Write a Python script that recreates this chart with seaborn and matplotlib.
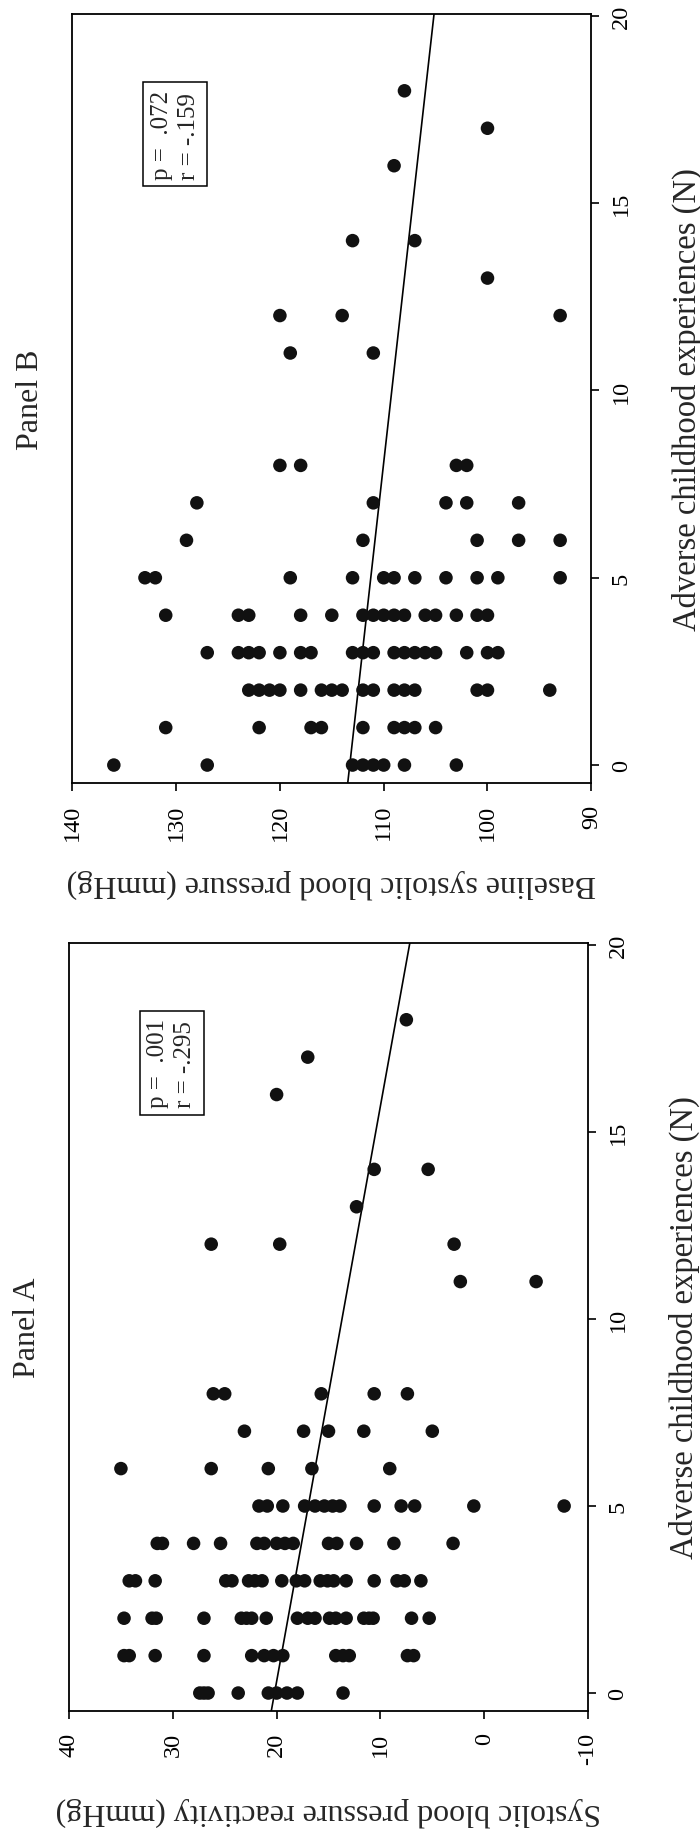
import numpy as np
import matplotlib
matplotlib.use("Agg")
import matplotlib.pyplot as plt
import seaborn as sns

# Panel A: ACE count vs systolic blood pressure reactivity (mmHg)
ace_a = [0, 0, 0, 0, 0, 0, 0, 0, 0,
         1, 1, 1, 1, 1, 1, 1, 1, 1, 1, 1, 1, 1,
         2, 2, 2, 2, 2, 2, 2, 2, 2, 2, 2, 2, 2, 2, 2, 2, 2, 2, 2,
         3, 3, 3, 3, 3, 3, 3, 3, 3, 3, 3, 3, 3, 3, 3, 3, 3, 3, 3,
         4, 4, 4, 4, 4, 4, 4, 4, 4, 4, 4, 4, 4, 4,
         5, 5, 5, 5, 5, 5, 5, 5, 5, 5, 5, 5, 5,
         6, 6, 6, 6, 6,
         7, 7, 7, 7, 7,
         8, 8, 8, 8, 8,
         11, 11, 12, 12, 12, 13, 14, 14, 16, 17, 18]
react_a = [27.4, 27.0, 26.6, 23.7, 20.8, 20.0, 19.0, 18.0, 13.6,
           34.7, 34.2, 31.7, 27.0, 22.4, 21.2, 20.3, 19.4, 14.3, 13.6, 13.0, 7.4, 6.8,
           34.7, 32.0, 31.6, 27.0, 23.4, 22.9, 22.4, 21.0, 18.0, 17.0, 16.3, 14.9, 14.3,
           13.3, 11.6, 11.1, 10.7, 7.0, 5.3,
           34.2, 33.6, 31.7, 24.9, 24.3, 22.7, 22.1, 21.4, 19.5, 18.1, 17.3, 15.8, 15.1,
           14.5, 13.3, 10.6, 8.4, 7.7, 6.1,
           31.5, 31.0, 28.0, 25.4, 21.9, 21.2, 20.0, 19.2, 18.4, 15.0, 14.2, 12.3, 8.7, 3.0,
           21.7, 20.9, 19.4, 17.3, 16.3, 15.4, 14.6, 13.9, 10.6, 8.0, 6.7, 1.0, -7.7,
           35.0, 26.3, 20.8, 16.6, 9.1,
           23.1, 17.4, 15.0, 11.6, 5.0,
           26.1, 25.0, 15.7, 10.6, 7.4,
           2.3, -5.0, 26.3, 19.7, 2.9, 12.3, 10.6, 5.4, 20.0, 17.0, 7.5]

# Panel B: ACE count vs baseline systolic blood pressure (mmHg)
ace_b = [0, 0, 0, 0, 0, 0, 0, 0,
         1, 1, 1, 1, 1, 1, 1, 1, 1,
         2, 2, 2, 2, 2, 2, 2, 2, 2, 2, 2, 2, 2, 2, 2, 2,
         3, 3, 3, 3, 3, 3, 3, 3, 3, 3, 3, 3, 3, 3, 3, 3, 3, 3,
         4, 4, 4, 4, 4, 4, 4, 4, 4, 4, 4, 4, 4, 4, 4,
         5, 5, 5, 5, 5, 5, 5, 5, 5, 5, 5,
         6, 6, 6, 6, 6,
         7, 7, 7, 7, 7,
         8, 8, 8, 8,
         11, 11, 12, 12, 12, 13, 14, 14, 16, 17, 18]
sbp_b = [136, 127, 113, 112, 111, 110, 108, 103,
         131, 122, 117, 116, 112, 109, 108, 107, 105,
         123, 122, 121, 120, 118, 116, 115, 114, 112, 111, 109, 108, 107, 101, 100, 94,
         127, 124, 123, 122, 120, 118, 117, 113, 112, 111, 109, 108, 107, 106, 105, 102,
         100, 99,
         131, 124, 123, 118, 115, 112, 111, 110, 109, 108, 106, 105, 103, 101, 100,
         133, 132, 119, 113, 110, 109, 107, 104, 101, 99, 93,
         129, 112, 101, 97, 93,
         128, 111, 104, 102, 97,
         120, 118, 103, 102,
         119, 111, 120, 114, 93, 100, 113, 107, 109, 100, 108]

# fitted lines (intercept, slope) as drawn in the figure
fit_a = (20.2, -0.65)
fit_b = (113.27, -0.405)

titles = ["Panel A", "Panel B"]
stats_text = ["p =  .001\nr = -.295", "p =  .072\nr = -.159"]
ylabels = ["Systolic blood pressure reactivity (mmHg)",
           "Baseline systolic blood pressure (mmHg)"]
xlabel = "Adverse childhood experiences (N)"
bp_ticks = [[40, 30, 20, 10, 0, -10], [140, 130, 120, 110, 100, 90]]
ace_ticks = [0, 5, 10, 15, 20]
ace_lim = (-0.48, 20.05)

sns.set_style("ticks")
plt.rcParams['font.family'] = ['Liberation Serif', 'DejaVu Serif']
plt.rcParams['axes.unicode_minus'] = False

fig = plt.figure(figsize=(7, 18.31), dpi=100)
# the whole figure is turned a quarter turn: blood pressure runs
# right-to-left along the bottom, ACE count runs upward on the right
ax_a = fig.add_axes([0.0986, 0.0650, 0.7414, 0.4194])
ax_b = fig.add_axes([0.1033, 0.5718, 0.7414, 0.4200])

panels = [(ax_a, ace_a, react_a, fit_a), (ax_b, ace_b, sbp_b, fit_b)]
for i, (ax, ace, bp, fit) in enumerate(panels):
    sns.scatterplot(x=bp, y=ace, ax=ax, color='#111111', s=95,
                    edgecolor='none', linewidth=0, legend=False, zorder=3)
    line_ace = np.array(ace_lim)
    ax.plot(fit[0] + fit[1] * line_ace, line_ace, color='black', lw=1.2, zorder=2)

    ax.set_xlim(bp_ticks[i][0], bp_ticks[i][-1])
    ax.set_ylim(*ace_lim)
    ax.set_xticks(bp_ticks[i])
    ax.set_xticklabels([str(t) for t in bp_ticks[i]])
    ax.set_yticks(ace_ticks)
    ax.set_yticklabels([str(t) for t in ace_ticks])

    for sp in ax.spines.values():
        sp.set_visible(True)
        sp.set_color('black')
        sp.set_linewidth(1.3)

    ax.tick_params(axis='x', bottom=True, top=False, direction='out', length=6,
                   width=1.2, labelsize=17.5, labelrotation=90, pad=9, colors='black')
    ax.tick_params(axis='y', left=False, right=True, labelleft=False, labelright=True,
                   direction='out', length=6, width=1.2, labelsize=17.5,
                   labelrotation=90, pad=8, colors='black')
    for lab in ax.get_yticklabels():
        lab.set_va('center')

    ax.set_xlabel(ylabels[i], fontsize=23, rotation=180, va='center')
    ax.xaxis.set_label_coords(0.5, -0.130)
    ax.yaxis.set_label_position('right')
    ax.set_ylabel(xlabel, fontsize=23.5, rotation=90, va='center')
    ax.yaxis.set_label_coords(1.185, 0.5)

    ax.text(-0.08, 0.5, titles[i], transform=ax.transAxes, rotation=90,
            ha='center', va='center', fontsize=23)
    ax.text(0.198, 0.844, stats_text[i], transform=ax.transAxes, rotation=90,
            ha='center', va='center', fontsize=18, multialignment='left',
            linespacing=1.3,
            bbox=dict(boxstyle='square,pad=0.3', fc='white', ec='black', lw=1.1))

fig.savefig('out.png', dpi=100, facecolor='white')
